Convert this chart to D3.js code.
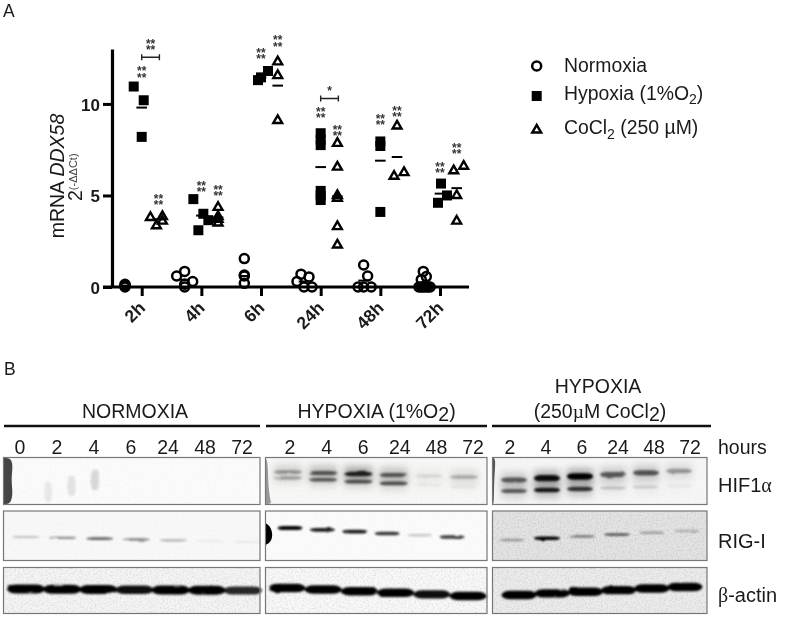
<!DOCTYPE html>
<html>
<head>
<meta charset="utf-8">
<script src="https://cdn.jsdelivr.net/npm/d3@7"></script>
<style>
  html, body { margin: 0; padding: 0; background: #fff; }
  svg { filter: blur(0.35px); }
  text { font-family: "Liberation Sans", Arial, sans-serif; fill: #1a1a1a; }
</style>
</head>
<body>
<div id="chart"></div>
<script>
// ---- panel A values
var hours = ["2h", "4h", "6h", "24h", "48h", "72h"];
var seriesNames = ["Normoxia", "Hypoxia", "CoCl2"];

var normoxiaValues = [
    [0.15, 0.1, 0.05, 0],
    [0.85, 0.6, 0.3, 0.15, 0],
    [1.55, 0.65, 0.6, 0.2],
    [0.7, 0.55, 0.3, 0, 0],
    [1.2, 0.6, 0, 0, 0],
    [0.85, 0.57, 0.4, 0.05, 0, 0, 0, 0, 0, 0]
];
var normoxiaDodge = [
    [0, 0, 0, 0],
    [0, -2, 2, 0, 0],
    [0, 0, 0, 0],
    [-0.75, 1.25, -1.75, 0, 2],
    [0, 1, -1.4, 0, 1.9],
    [0, 0.75, -0.5, 0.3, -1.1, -0.5, 0, 0.6, 1.2, 1.7]
];
var hypoxiaValues = [
    [10.95, 10.2, 8.2],
    [4.8, 4, 3.65, 3.1],
    [11.8, 11.45, 11.3],
    [8.4, 8.05, 7.75, 5.25, 5, 4.75],
    [7.95, 7.7, 4.1],
    [5.65, 5, 4.6]
];
var hypoxiaDodge = [
    [-2, 0.5, 0],
    [-2, 0.5, 1.75, -0.75],
    [1.75, 0, -0.75],
    [0, 0, 0, 0, 0, 0],
    [0, 0, 0],
    [0.25, 1.75, -0.5]
];
var cocl2Values = [
    [3.85, 3.8, 3.6, 3.35],
    [4.35, 3.85, 3.7, 3.5],
    [12.3, 11.55, 9.1],
    [7.85, 6.55, 5, 4.85, 3.3, 2.3],
    [8.8, 6.25, 6.05],
    [6.6, 6.35, 5, 3.6]
];
var cocl2Dodge = [
    [1, -2, 1, -0.5],
    [0, 0, 0, 0],
    [0, 0, 0],
    [0, 0, 0, 0, 0, 0],
    [0, 1.75, -0.75],
    [1.75, -0.75, 0, 0]
];
var normoxiaMeans = [0.08, 0.4, 0.6, 0.3, 0.35, 0.2];
var hypoxiaMeans = [9.8, 3.9, 11.45, 6.55, 6.9, 5.1];
var cocl2Means = [3.7, 3.8, 11.0, 4.95, 7.1, 5.4];

// top of each "**/**" mark, in y units
var hypoxiaStars = [11.5, 5.25, 12.5, 9.27, 8.9, 6.28];
var cocl2Stars = [4.53, 5.03, 13.2, 8.3, 9.33, 7.34];
var brackets = [
    {hour: "2h", value: 12.55, stars: ["**", "**"]},
    {hour: "24h", value: 10.3, stars: ["*"]}
];

var yTicks = [0, 5, 10];

// ---- panel B band strengths, 0..1
var lanesNormoxia = ["0", "2", "4", "6", "24", "48", "72"];
var lanesTreated = ["2", "4", "6", "24", "48", "72"];

var hifNormoxiaSpots = [0.07, 0.09, 0.13];
var rigNormoxia = [0.22, 0.42, 0.58, 0.45, 0.28, 0.06, 0.06];
var actinNormoxia = [1, 1, 1, 0.9, 1, 0.95, 0.8];
var hifHypoxiaUpper = [0.32, 0.55, 0.8, 0.55, 0.1, 0.25];
var hifHypoxiaLower = [0.3, 0.55, 0.58, 0.6, 0.04, 0.05];
var rigHypoxia = [0.95, 0.85, 0.85, 0.75, 0.2, 0.72];
var actinHypoxia = [1, 1, 1, 1, 0.9, 1];
var hifCocl2Upper = [0.55, 0.9, 1, 0.55, 0.58, 0.32];
var hifCocl2Lower = [0.55, 0.85, 0.72, 0.18, 0.14, 0.05];
var rigCocl2 = [0.32, 0.95, 0.42, 0.58, 0.28, 0.22];
var actinCocl2 = [1, 0.95, 1, 0.95, 1, 0.95];

var width = 787;
var height = 617;

var svg = d3.select("#chart")
    .append("svg")
    .attr("width", width)
    .attr("height", height)
    .style("display", "block");

var defs = svg.append("defs");
function addBlur(id, s) {
    defs.append("filter").attr("id", id)
        .attr("x", "-30%").attr("y", "-100%").attr("width", "160%").attr("height", "300%")
        .append("feGaussianBlur").attr("stdDeviation", s);
}
addBlur("haze", 3.5);
addBlur("edge", 0.45);

// band edges: a bit rough, then soft
var soft = defs.append("filter").attr("id", "soft")
    .attr("filterUnits", "userSpaceOnUse")
    .attr("x", 0).attr("y", 440).attr("width", 787).attr("height", 177);
soft.append("feTurbulence").attr("type", "fractalNoise").attr("baseFrequency", "0.06 0.2")
    .attr("numOctaves", 2).attr("seed", 7).attr("result", "n");
soft.append("feDisplacementMap").attr("in", "SourceGraphic").attr("in2", "n")
    .attr("scale", 2).attr("result", "d");
soft.append("feGaussianBlur").attr("in", "d").attr("stdDeviation", 0.9);

// gel background grain
var grain = defs.append("filter").attr("id", "grain")
    .attr("x", "0").attr("y", "0").attr("width", "100%").attr("height", "100%");
grain.append("feTurbulence").attr("type", "fractalNoise").attr("baseFrequency", 0.6)
    .attr("numOctaves", 2).attr("seed", 4).attr("result", "n");
grain.append("feColorMatrix").attr("in", "n").attr("type", "matrix")
    .attr("values", "0 0 0 0 0  0 0 0 0 0  0 0 0 0 0  0.9 0 0 0 -0.4");

// text with sub/sup/italic parts
function richText(g, x, y, parts, size, anchor) {
    var t = g.append("text").attr("x", x).attr("y", y)
        .style("font-size", size + "px")
        .attr("text-anchor", anchor || "start");
    var shift = 0;
    parts.forEach(function (p) {
        var s = t.append("tspan").text(p.t);
        var d = (p.dy || 0) - shift;
        if (d) s.attr("dy", d);
        shift = p.dy || 0;
        if (p.size) s.style("font-size", p.size + "px");
        if (p.italic) s.style("font-style", "italic");
        if (p.family) s.style("font-family", p.family);
        if (p.fill) s.style("fill", p.fill);
    });
    return t;
}

// ---- panel A
var chartA = svg.append("g");

var x = d3.scalePoint().domain(hours).range([141.7, 440]);
var y = d3.scaleLinear().domain([0, 13]).range([287, 49]);
var seriesX = d3.scalePoint().domain(seriesNames).range([-16.7, 16.7]);
var dodgeUnit = 4;

// Add Y axis
var yAxis = chartA.append("g")
    .attr("transform", "translate(112,0)")
    .call(d3.axisLeft(y).tickValues(yTicks).tickSize(9).tickSizeOuter(0).tickPadding(3));
yAxis.select(".domain").attr("stroke", "#000").attr("stroke-width", 3.2);
yAxis.selectAll(".tick line").attr("stroke", "#000").attr("stroke-width", 3);
yAxis.selectAll(".tick text")
    .style("font-family", "Liberation Sans")
    .style("font-size", "17px")
    .style("font-weight", "bold")
    .attr("dy", "0.36em");

// Add X axis
var xAxis = chartA.append("g")
    .attr("transform", "translate(0," + y(0) + ")")
    .call(d3.axisBottom(x).tickSize(9).tickSizeOuter(0));
xAxis.select(".domain").remove();
xAxis.selectAll(".tick line").attr("stroke", "#000").attr("stroke-width", 3);
xAxis.selectAll(".tick text")
    .style("font-family", "Liberation Sans")
    .style("font-size", "17.5px")
    .style("font-weight", "bold")
    .attr("text-anchor", "end")
    .attr("x", 0).attr("y", 0).attr("dy", 0)
    .attr("transform", "translate(4,22) rotate(-45)");

chartA.append("line")
    .attr("x1", 103).attr("x2", 469)
    .attr("y1", y(0)).attr("y2", y(0))
    .attr("stroke", "#000").attr("stroke-width", 3.2);

var symbols = {
    Normoxia: d3.symbol().type(d3.symbolCircle).size(Math.PI * 4.5 * 4.5),
    Hypoxia: d3.symbol().type(d3.symbolSquare).size(100),
    CoCl2: d3.symbol().type(d3.symbolTriangle).size(34)
};

function styleMark(sel, name) {
    sel.attr("d", symbols[name]());
    if (name == "Hypoxia") {
        sel.attr("fill", "#000").attr("stroke", "none");
    } else {
        sel.attr("fill", "none").attr("stroke", "#000")
            .attr("stroke-width", name == "Normoxia" ? 2.5 : 2.4);
    }
}

function drawSeries(name, values, dodge, means) {
    var rows = [];
    values.forEach(function (vals, i) {
        vals.forEach(function (v, j) {
            rows.push({hour: hours[i], value: v, dodge: dodge[i][j]});
        });
    });
    var cx = function (h) { return x(h) + seriesX(name); };

    chartA.append("g").selectAll("path")
        .data(rows)
        .enter()
        .append("path")
        .call(styleMark, name)
        .attr("transform", function (d) {
            return "translate(" + (cx(d.hour) + d.dodge * dodgeUnit) + "," + y(d.value) + ")";
        });

    chartA.append("g").selectAll("line")
        .data(means)
        .enter()
        .append("line")
        .attr("x1", function (d, i) { return cx(hours[i]) - 5.3; })
        .attr("x2", function (d, i) { return cx(hours[i]) + 5.3; })
        .attr("y1", function (d) { return y(d); })
        .attr("y2", function (d) { return y(d); })
        .attr("stroke", "#000")
        .attr("stroke-width", 2);
}

drawSeries("Normoxia", normoxiaValues, normoxiaDodge, normoxiaMeans);
drawSeries("Hypoxia", hypoxiaValues, hypoxiaDodge, hypoxiaMeans);
drawSeries("CoCl2", cocl2Values, cocl2Dodge, cocl2Means);

// Add significance marks
function starStack(px, py, lines) {
    var t = chartA.append("text")
        .attr("y", py)
        .attr("text-anchor", "middle")
        .style("font-size", "12px")
        .style("font-weight", "bold")
        .style("fill", "#333");
    lines.forEach(function (s, i) {
        t.append("tspan")
            .attr("x", px)
            .attr("dy", i ? 6.2 : 0)
            .text(s);
    });
}
hypoxiaStars.forEach(function (v, i) {
    starStack(x(hours[i]) + seriesX("Hypoxia"), y(v) - 1, ["**", "**"]);
});
cocl2Stars.forEach(function (v, i) {
    starStack(x(hours[i]) + seriesX("CoCl2"), y(v) - 1, ["**", "**"]);
});
brackets.forEach(function (b) {
    var x0 = x(b.hour) + seriesX("Hypoxia");
    var x1 = x(b.hour) + seriesX("CoCl2") + 1;
    var by = y(b.value);
    var path = d3.path();
    path.moveTo(x0, by - 3); path.lineTo(x0, by + 3);
    path.moveTo(x0, by); path.lineTo(x1, by);
    path.moveTo(x1, by - 3); path.lineTo(x1, by + 3);
    chartA.append("path").attr("d", path.toString())
        .attr("fill", "none").attr("stroke", "#222").attr("stroke-width", 1.4);
    starStack((x0 + x1) / 2, by - (b.stars.length == 2 ? 9.5 : 3.5), b.stars);
});

// Add Y label
var yLabel = chartA.append("g").attr("transform", "translate(64,176) rotate(-90)");
richText(yLabel, 0, 0, [{t: "mRNA "}, {t: "DDX58", italic: true}], 19.5, "middle");
var yLabel2 = chartA.append("g").attr("transform", "translate(82,201) rotate(-90)");
richText(yLabel2, 0, 0, [
    {t: "2"},
    {t: "(-ΔΔCt)", dy: -5, size: 11, fill: "#444"}
], 19.5);

// Add legend
var legendNames = [
    {key: "Normoxia", parts: [{t: "Normoxia"}], ty: 72, my: 66},
    {key: "Hypoxia", parts: [{t: "Hypoxia (1%O"}, {t: "2", dy: 4, size: 14}, {t: ")"}], ty: 100, my: 96},
    {key: "CoCl2", parts: [{t: "CoCl"}, {t: "2", dy: 5, size: 14}, {t: " (250 µM)"}], ty: 134, my: 130}
];
legendNames.forEach(function (d) {
    svg.append("path")
        .call(styleMark, d.key)
        .attr("transform", "translate(536.7," + d.my + ")");
    richText(svg, 564, d.ty, d.parts, 19.4);
});

svg.append("text").attr("x", 3).attr("y", 17).style("font-size", "17.5px").text("A");
svg.append("text").attr("x", 4).attr("y", 375).style("font-size", "17.5px").text("B");

// ---- panel B
var rowTops = [457.5, 511, 567.5];
var rowBottoms = [504.5, 560.5, 613.5];

var panels = [
    {lanes: lanesNormoxia, x0: 3.5, x1: 260, rule: [4, 260], labelRange: [20, 242]},
    {lanes: lanesTreated, x0: 265.5, x1: 487, rule: [266, 487], labelRange: [290, 473]},
    {lanes: lanesTreated, x0: 492.5, x1: 707, rule: [492, 711], labelRange: [510, 690]}
];

var rowShades = [
    ["#fbfbfb", "#f8f8f8", "#f4f4f4"],
    ["#f7f7f5", "#fbfbfb", "#f8f8f8"],
    ["#f6f6f6", "#e3e3e3", "#ebebeb"]
];

panels.forEach(function (p, pi) {
    svg.append("line")
        .attr("x1", p.rule[0]).attr("x2", p.rule[1])
        .attr("y1", 426).attr("y2", 426)
        .attr("stroke", "#111").attr("stroke-width", 2.4);

    var labelX = d3.scalePoint().domain(p.lanes).range(p.labelRange);
    svg.append("g").selectAll("text")
        .data(p.lanes)
        .enter()
        .append("text")
        .attr("x", function (d) { return labelX(d); })
        .attr("y", 454)
        .attr("text-anchor", "middle")
        .style("font-size", "19.5px")
        .text(function (d) { return d; });

    rowTops.forEach(function (top, ri) {
        svg.append("rect")
            .attr("x", p.x0).attr("y", top)
            .attr("width", p.x1 - p.x0).attr("height", rowBottoms[ri] - top)
            .attr("fill", rowShades[pi][ri]);
        svg.append("rect")
            .attr("x", p.x0).attr("y", top)
            .attr("width", p.x1 - p.x0).attr("height", rowBottoms[ri] - top)
            .attr("fill", "#000")
            .attr("filter", "url(#grain)")
            .attr("opacity", ri == 1 && pi == 2 || ri == 2 ? 0.28 : 0.08);
    });
});

// one row of bands on one panel
function drawBands(values, lanes, xr, yr, h, w, haze) {
    var bx = d3.scalePoint().domain(lanes).range(xr);
    var by = d3.scaleLinear().domain([0, lanes.length - 1]).range(yr);
    var g = svg.append("g");
    if (haze) {
        g.append("g").attr("filter", "url(#haze)").selectAll("rect")
            .data(values).enter().append("rect")
            .attr("x", function (d, i) { return bx(lanes[i]) - w / 2; })
            .attr("y", function (d, i) { return by(i) - 8; })
            .attr("width", w).attr("height", 16)
            .attr("fill", "#000")
            .attr("opacity", function (d) { return d * haze; });
    }
    g.append("g").attr("filter", "url(#soft)").selectAll("rect")
        .data(values).enter().append("rect")
        .attr("x", function (d, i) { return bx(lanes[i]) - w / 2; })
        .attr("y", function (d, i) { return by(i) - h * (0.55 + d * 0.45) / 2; })
        .attr("width", w)
        .attr("height", function (d) { return h * (0.55 + d * 0.45); })
        .attr("rx", w * 0.25)
        .attr("ry", function (d) { return h * (0.55 + d * 0.45) / 2; })
        .attr("fill", "#000")
        .attr("opacity", function (d) { return Math.min(1, d * 1.05); });
}

// Normoxia
drawBands(hifNormoxiaSpots, ["2", "4", "6"], [48, 95], [492, 480], 34, 8);
drawBands(rigNormoxia, lanesNormoxia, [26, 247], [537, 542], 3.2, 27);
drawBands(actinNormoxia, lanesNormoxia, [26, 243], [589, 590.5], 9, 38);
// Hypoxia
drawBands(hifHypoxiaUpper, lanesTreated, [288, 464], [472, 477], 5, 28, 0.35);
drawBands(hifHypoxiaLower, lanesTreated, [288, 464], [478, 487], 4.5, 28, 0.15);
drawBands(rigHypoxia, lanesTreated, [290, 452], [528, 537], 4, 25);
drawBands(actinHypoxia, lanesTreated, [287, 468], [588, 596], 8.5, 37);
// CoCl2
drawBands(hifCocl2Upper, lanesTreated, [514, 679], [480, 471], 6.5, 26, 0.3);
drawBands(hifCocl2Lower, lanesTreated, [514, 679], [491, 486], 5, 26, 0.25);
drawBands(rigCocl2, lanesTreated, [512, 687], [540, 531], 3.5, 26);
drawBands(actinCocl2, lanesTreated, [519, 685], [595, 587], 8.5, 35);

// dark membrane edges on the left of some strips
var edges = svg.append("g").attr("filter", "url(#edge)");
edges.append("path")
    .attr("d", d3.line().curve(d3.curveBasis)([[4, 458], [11, 458], [13, 466], [11, 480], [13, 492], [11, 504], [4, 504]]))
    .attr("fill", "#444");
edges.append("path")
    .attr("d", d3.line().curve(d3.curveBasis)([[265.5, 523], [270, 526], [273, 534], [271, 542], [265.5, 545]]))
    .attr("fill", "#000");
edges.append("path")
    .attr("d", d3.line().curve(d3.curveBasis)([[265.5, 458], [268, 462], [268, 482], [270, 500], [272, 504], [265.5, 504]]))
    .attr("fill", "#999");
edges.append("path")
    .attr("d", d3.line().curve(d3.curveBasis)([[492.5, 458], [496, 458], [494, 480], [494, 504], [492.5, 504]]))
    .attr("fill", "#555");

// strip borders on top
panels.forEach(function (p) {
    rowTops.forEach(function (top, ri) {
        svg.append("rect")
            .attr("x", p.x0).attr("y", top)
            .attr("width", p.x1 - p.x0).attr("height", rowBottoms[ri] - top)
            .attr("fill", "none").attr("stroke", "#777").attr("stroke-width", 1.2);
    });
});

// Titles
svg.append("text").attr("x", 135).attr("y", 418).attr("text-anchor", "middle")
    .style("font-size", "19.5px").text("NORMOXIA");
richText(svg, 376.5, 418, [{t: "HYPOXIA (1%O"}, {t: "2", dy: 3, size: 19.5}, {t: ")"}], 19.5, "middle");
svg.append("text").attr("x", 598).attr("y", 393).attr("text-anchor", "middle")
    .style("font-size", "19.5px").text("HYPOXIA");
richText(svg, 600, 418, [
    {t: "(250"},
    {t: "µ", family: "Liberation Serif"},
    {t: "M CoCl"},
    {t: "2", dy: 3, size: 19.5},
    {t: ")"}
], 19.5, "middle");

svg.append("text").attr("x", 718).attr("y", 454).style("font-size", "19.5px").text("hours");
richText(svg, 718, 492, [{t: "HIF1"}, {t: "α", family: "Liberation Serif"}], 20);
svg.append("text").attr("x", 718).attr("y", 548).style("font-size", "20px").text("RIG-I");
richText(svg, 718, 602, [{t: "β", family: "Liberation Serif"}, {t: "-actin"}], 20);
</script>
</body>
</html>
